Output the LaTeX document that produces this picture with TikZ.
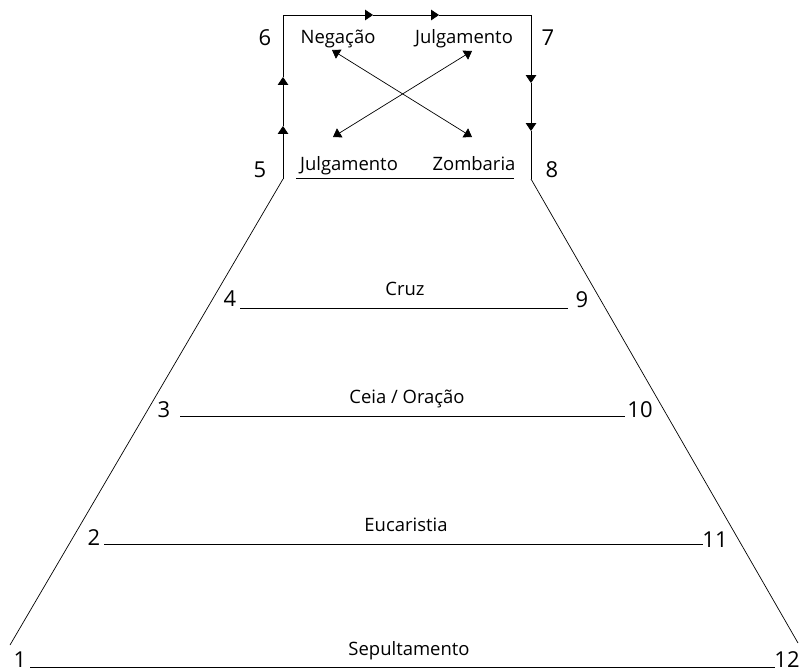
\documentclass[tikz,border=0pt]{standalone}
\usepackage{fontspec}
\setmainfont{Open Sans}
\usetikzlibrary{arrows.meta}
\begin{document}
\begin{tikzpicture}[x=0.02cm,y=-0.02cm,>={Triangle[length=4.5pt,width=6pt]},
  every node/.style={font=\fontsize{10.5}{12}\selectfont,inner sep=0pt,anchor=base},
  num/.style={font=\fontsize{12.5}{14}\selectfont}]
\useasboundingbox (0,0) rectangle (803,670);
% frame and sides
\coordinate (c5) at (283,179);
\coordinate (c6) at (283,15);
\coordinate (c7) at (531,15);
\coordinate (c8) at (531,179);
\coordinate (b1) at (10,645);
\coordinate (b12) at (798,643);
\coordinate (l1) at (283,126);
\coordinate (l2) at (283,77);
\coordinate (t1) at (373,15);
\coordinate (t2) at (439,15);
\coordinate (r1) at (531,83);
\coordinate (r2) at (531,131);
\draw[->] (c5)--(l1);
\draw[->] (l1)--(l2);
\draw[->] (l2)--(c6)--(t1);
\draw[->] (t1)--(t2);
\draw[->] (t2)--(c7)--(r1);
\draw[->] (r1)--(r2);
\draw (r2)--(c8);
\draw (c5)--(b1);
\draw (c8)--(b12);
% crossing arrows
\coordinate (neg) at (332,50);
\coordinate (zom) at (472,137);
\coordinate (jtop) at (472,51);
\coordinate (jbot) at (333,137);
\draw[<->] (neg)--(zom);
\draw[<->] (jtop)--(jbot);
% levels
\coordinate (h5a) at (296,178); \coordinate (h5b) at (514,178);
\coordinate (h4a) at (240,308); \coordinate (h4b) at (568,308);
\coordinate (h3a) at (180,416); \coordinate (h3b) at (625,416);
\coordinate (h2a) at (104,544); \coordinate (h2b) at (703,544);
\coordinate (h1a) at (30,667);  \coordinate (h1b) at (775,667);
\draw (h5a)--(h5b);
\draw (h4a)--(h4b);
\draw (h3a)--(h3b);
\draw (h2a)--(h2b);
\draw (h1a)--(h1b);
% texts
\node (negacao) at (338,43) {Negação};
\node (julga) at (464,43) {Julgamento};
\node (julgb) at (349,170) {Julgamento};
\node (zombaria) at (474,170) {Zombaria};
\node (cruz) at (405,295) {Cruz};
\node (ceia) at (407,403) {Ceia / Oração};
\node (euca) at (406,531) {Eucaristia};
\node (sepul) at (409,655) {Sepultamento};
% numbers
\node[num] (n1) at (20,667) {1};
\node[num] (n2) at (94,545) {2};
\node[num] (n3) at (164,417) {3};
\node[num] (n4) at (230,306) {4};
\node[num] (n5) at (260,177) {5};
\node[num] (n6) at (265,45) {6};
\node[num] (n7) at (548,45) {7};
\node[num] (n8) at (552,177) {8};
\node[num] (n9) at (582,307) {9};
\node[num] (n10) at (640,417) {10};
\node[num] (n11) at (715,547) {11};
\node[num] (n12) at (787,667) {12};
\end{tikzpicture}
\end{document}
